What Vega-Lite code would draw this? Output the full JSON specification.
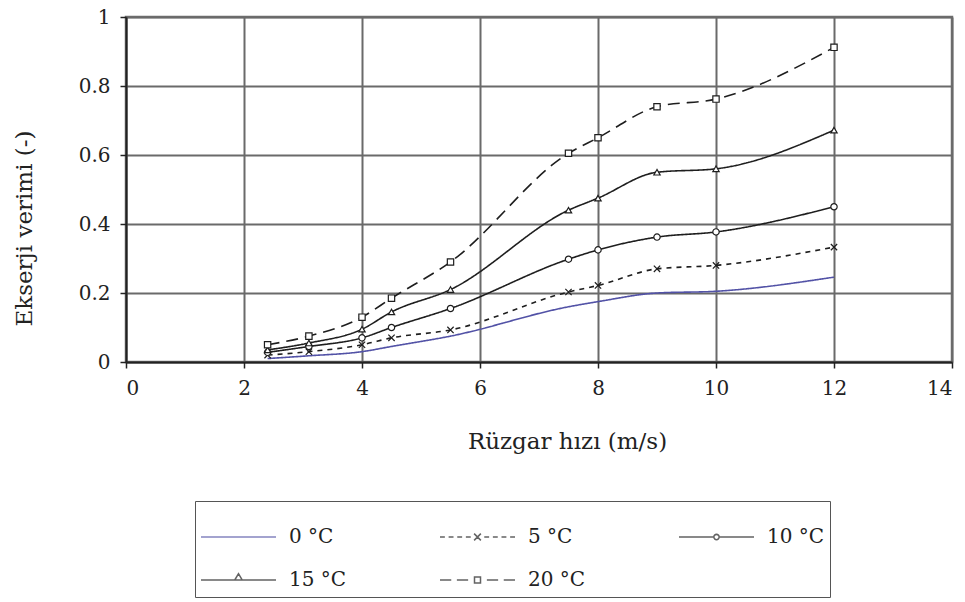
{
  "$schema": "https://vega.github.io/schema/vega-lite/v6.json",
  "width": 826,
  "height": 345,
  "autosize": "none",
  "padding": {"left": 126, "top": 17, "right": 13, "bottom": 240},
  "background": "white",
  "config": {
    "font": "DejaVu Serif",
    "view": {"stroke": "#6f6f6f", "strokeWidth": 2.5},
    "axis": {
      "labelFont": "DejaVu Serif",
      "labelFontSize": 20,
      "labelColor": "#222",
      "titleFont": "DejaVu Serif",
      "titleFontSize": 23,
      "titleFontWeight": "normal",
      "titleColor": "#222",
      "domainColor": "#222",
      "domainWidth": 2,
      "tickColor": "#222",
      "tickWidth": 1.5,
      "tickSize": 6,
      "gridColor": "#6a6a6a",
      "gridWidth": 2,
      "gridOpacity": 1
    }
  },
  "data": {
    "values": [
      {"series": "0 °C", "speed": 2.4, "eff": 0.01},
      {"series": "0 °C", "speed": 3.1, "eff": 0.018},
      {"series": "0 °C", "speed": 4, "eff": 0.03},
      {"series": "0 °C", "speed": 4.5, "eff": 0.045},
      {"series": "0 °C", "speed": 5.5, "eff": 0.075},
      {"series": "0 °C", "speed": 7.5, "eff": 0.16},
      {"series": "0 °C", "speed": 8, "eff": 0.175},
      {"series": "0 °C", "speed": 9, "eff": 0.2},
      {"series": "0 °C", "speed": 10, "eff": 0.205},
      {"series": "0 °C", "speed": 12, "eff": 0.246},
      {"series": "5 °C", "speed": 2.4, "eff": 0.02},
      {"series": "5 °C", "speed": 3.1, "eff": 0.03},
      {"series": "5 °C", "speed": 4, "eff": 0.05},
      {"series": "5 °C", "speed": 4.5, "eff": 0.07},
      {"series": "5 °C", "speed": 5.5, "eff": 0.093},
      {"series": "5 °C", "speed": 7.5, "eff": 0.203},
      {"series": "5 °C", "speed": 8, "eff": 0.222},
      {"series": "5 °C", "speed": 9, "eff": 0.27},
      {"series": "5 °C", "speed": 10, "eff": 0.28},
      {"series": "5 °C", "speed": 12, "eff": 0.333},
      {"series": "10 °C", "speed": 2.4, "eff": 0.028},
      {"series": "10 °C", "speed": 3.1, "eff": 0.045},
      {"series": "10 °C", "speed": 4, "eff": 0.07},
      {"series": "10 °C", "speed": 4.5, "eff": 0.1},
      {"series": "10 °C", "speed": 5.5, "eff": 0.155},
      {"series": "10 °C", "speed": 7.5, "eff": 0.298},
      {"series": "10 °C", "speed": 8, "eff": 0.325},
      {"series": "10 °C", "speed": 9, "eff": 0.362},
      {"series": "10 °C", "speed": 10, "eff": 0.377},
      {"series": "10 °C", "speed": 12, "eff": 0.45},
      {"series": "15 °C", "speed": 2.4, "eff": 0.035},
      {"series": "15 °C", "speed": 3.1, "eff": 0.055},
      {"series": "15 °C", "speed": 4, "eff": 0.095},
      {"series": "15 °C", "speed": 4.5, "eff": 0.145},
      {"series": "15 °C", "speed": 5.5, "eff": 0.21},
      {"series": "15 °C", "speed": 7.5, "eff": 0.44},
      {"series": "15 °C", "speed": 8, "eff": 0.475},
      {"series": "15 °C", "speed": 9, "eff": 0.55},
      {"series": "15 °C", "speed": 10, "eff": 0.56},
      {"series": "15 °C", "speed": 12, "eff": 0.672},
      {"series": "20 °C", "speed": 2.4, "eff": 0.05},
      {"series": "20 °C", "speed": 3.1, "eff": 0.075},
      {"series": "20 °C", "speed": 4, "eff": 0.13},
      {"series": "20 °C", "speed": 4.5, "eff": 0.185},
      {"series": "20 °C", "speed": 5.5, "eff": 0.29},
      {"series": "20 °C", "speed": 7.5, "eff": 0.605},
      {"series": "20 °C", "speed": 8, "eff": 0.65},
      {"series": "20 °C", "speed": 9, "eff": 0.74},
      {"series": "20 °C", "speed": 10, "eff": 0.762},
      {"series": "20 °C", "speed": 12, "eff": 0.912}
    ]
  },
  "encoding": {
    "x": {
      "field": "speed",
      "type": "quantitative",
      "scale": {"domain": [0, 14], "nice": false},
      "axis": {
        "values": [0, 2, 4, 6, 8, 10, 12, 14],
        "format": "d",
        "labelPadding": 10,
        "title": "Rüzgar hızı (m/s)",
        "titleX": 441,
        "titleY": 79,
        "titleBaseline": "middle"
      }
    },
    "y": {
      "field": "eff",
      "type": "quantitative",
      "scale": {"domain": [0, 1], "nice": false},
      "axis": {
        "values": [0, 0.2, 0.4, 0.6, 0.8, 1],
        "format": "~g",
        "labelPadding": 10,
        "title": "Ekserji verimi (-)",
        "titleX": -102,
        "titleY": 211,
        "titleBaseline": "middle"
      }
    }
  },
  "layer": [
    {
      "mark": {"type": "line", "interpolate": "monotone", "strokeWidth": 1.6},
      "encoding": {
        "color": {
          "field": "series",
          "type": "nominal",
          "scale": {
            "domain": ["0 °C", "5 °C", "10 °C", "15 °C", "20 °C"],
            "range": ["#5252a6", "#1e1e1e", "#1e1e1e", "#1e1e1e", "#1e1e1e"]
          },
          "legend": null
        },
        "strokeDash": {
          "field": "series",
          "type": "nominal",
          "scale": {
            "domain": ["0 °C", "5 °C", "10 °C", "15 °C", "20 °C"],
            "range": [[1, 0], [5, 5], [1, 0], [1, 0], [12, 7]]
          },
          "legend": null
        }
      }
    },
    {
      "transform": [{"filter": "datum.series !== '0 °C'"}],
      "mark": {"type": "point", "filled": false, "fill": "white", "size": 40, "strokeWidth": 1.2, "opacity": 1},
      "encoding": {
        "color": {
          "field": "series",
          "type": "nominal",
          "scale": {
            "domain": ["0 °C", "5 °C", "10 °C", "15 °C", "20 °C"],
            "range": ["#5252a6", "#1e1e1e", "#1e1e1e", "#1e1e1e", "#1e1e1e"]
          },
          "legend": null
        },
        "shape": {
          "field": "series",
          "type": "nominal",
          "scale": {
            "domain": ["5 °C", "10 °C", "15 °C", "20 °C"],
            "range": ["M-1,-1L1,1M-1,1L1,-1", "circle", "triangle-up", "square"]
          },
          "legend": null
        }
      }
    },
    {
      "transform": [{"filter": "false"}],
      "mark": {"type": "point", "filled": false, "size": 5625, "strokeWidth": 1.5},
      "encoding": {
        "color": {
          "field": "series",
          "type": "nominal",
          "scale": {
            "domain": ["0 °C", "5 °C", "10 °C", "15 °C", "20 °C"],
            "range": ["#5252a6", "#222222", "#222222", "#222222", "#222222"]
          }
        },
        "shape": {
          "field": "series",
          "type": "nominal",
          "scale": {
            "domain": ["0 °C", "5 °C", "10 °C", "15 °C", "20 °C"],
            "range": [
              "M-1,0H1",
              "M-1,0H-0.87M-0.77,0H-0.64M-0.54,0H-0.41M-0.31,0H-0.18M-0.09,-0.09L0.09,0.09M-0.09,0.09L0.09,-0.09M0.18,0H0.31M0.41,0H0.54M0.64,0H0.77M0.87,0H1",
              "M-1,0H-0.07M0.07,0H1M0.07,0A0.07,0.07 0 1 1 -0.07,0A0.07,0.07 0 1 1 0.07,0",
              "M-1,0H1M-0.1,0L0,-0.17L0.1,0Z",
              "M-1,0H-0.7M-0.55,0H-0.25M-0.08,-0.08H0.08V0.08H-0.08ZM0.25,0H0.55M0.7,0H1"
            ]
          },
          "legend": {
            "orient": "none",
            "legendX": 69,
            "legendY": 484,
            "direction": "horizontal",
            "columns": 3,
            "columnPadding": 92,
            "rowPadding": 19,
            "padding": 5,
            "clipHeight": 24,
            "strokeColor": "#555",
            "fillColor": "white",
            "symbolSize": 5625,
            "symbolStrokeWidth": 1.5,
            "labelFont": "DejaVu Serif",
            "labelFontSize": 20,
            "labelColor": "#222",
            "labelOffset": 12,
            "title": "\u00a0",
            "titleFont": "DejaVu Serif",
            "titleFontSize": 16,
            "titlePadding": 3
          }
        }
      }
    }
  ],
  "resolve": {"scale": {"shape": "independent", "color": "independent"}}
}
